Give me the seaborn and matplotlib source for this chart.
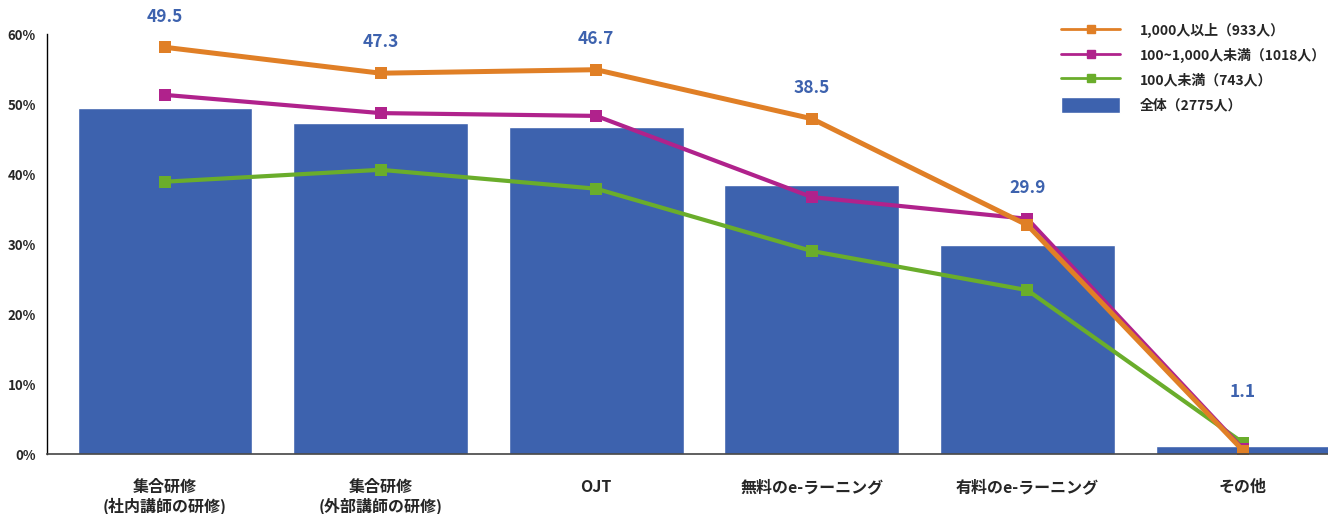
import numpy as np
import pandas as pd
import matplotlib
matplotlib.use("Agg")
import matplotlib.pyplot as plt
import seaborn as sns
from matplotlib.lines import Line2D
from matplotlib.patches import Patch

categories = ["集合研修\n(社内講師の研修)", "集合研修\n(外部講師の研修)", "OJT",
              "無料のe-ラーニング", "有料のe-ラーニング", "その他"]
total = [49.5, 47.3, 46.7, 38.5, 29.9, 1.1]
large = [58.1, 54.4, 54.9, 47.9, 32.7, 0.5]
medium = [51.3, 48.7, 48.3, 36.7, 33.6, 0.7]
small = [38.9, 40.6, 37.9, 29.0, 23.4, 1.6]

series_names = ["1,000人以上（933人）", "100~1,000人未満（1018人）", "100人未満（743人）"]
total_name = "全体（2775人）"

blue = "#3D62AE"
colors = {"large": "#E07F26", "medium": "#B0228C", "small": "#6AAD2B"}

sns.set_style("white")
plt.rcParams['font.family'] = ['Noto Sans CJK JP', 'DejaVu Sans']

bars = pd.DataFrame({"cat": categories, "value": total})
pos = np.arange(len(categories))

fig = plt.figure(figsize=(13.28, 5.14), dpi=100)
ax = fig.add_axes([47 / 1328, 60 / 514, 1 - 47 / 1328, 420 / 514])

sns.barplot(data=bars, x="cat", y="value", color=blue, saturation=1,
            width=0.81, ax=ax)

# draw order: green, magenta, then orange on top
lines = [("small", small, 3.0), ("medium", medium, 3.0), ("large", large, 3.6)]
for key, vals, lw in lines:
    df = pd.DataFrame({"pos": pos, "value": vals})
    sns.lineplot(data=df, x="pos", y="value", color=colors[key], linewidth=lw,
                 marker="s", markersize=8, markeredgewidth=0, ax=ax)

for i, v in enumerate(total):
    top = max(large[i], medium[i], small[i], v)
    ax.text(i, max(top + 4.4, 8.9), f"{v}", ha="center", va="center",
            color=blue, fontsize=12.5, fontweight="bold", clip_on=False)

ax.set_xlim(-0.547, 5.394)
ax.set_ylim(0, 60)
ax.set_yticks(range(0, 61, 10))
ax.set_yticklabels([f"{t}%" for t in range(0, 61, 10)], fontsize=9.5,
                   fontweight="bold")
ax.set_xticks(pos)
ax.set_xticklabels(categories, fontsize=11.5, fontweight="bold", linespacing=1.2)
ax.set_xlabel("")
ax.set_ylabel("")
ax.tick_params(axis="y", direction="in", length=11, width=1.2, color="#555555", pad=8)
ax.tick_params(axis="x", length=0, pad=18)
for s in ["top", "right"]:
    ax.spines[s].set_visible(False)
ax.spines["left"].set_color("black")
ax.spines["bottom"].set_color("#444444")
ax.spines["left"].set_linewidth(1.0)
ax.spines["bottom"].set_linewidth(1.2)

handles = [
    Line2D([], [], color=colors["large"], lw=2, marker="s", markersize=6),
    Line2D([], [], color=colors["medium"], lw=2, marker="s", markersize=6),
    Line2D([], [], color=colors["small"], lw=2, marker="s", markersize=6),
    Patch(facecolor=blue),
]
leg = ax.legend(handles, series_names + [total_name], loc="upper left",
                bbox_to_anchor=(0.787, 1.04),
                frameon=False, fontsize=10, handlelength=4.3, handleheight=1.4,
                handletextpad=1.4, labelspacing=0.62, borderaxespad=0)
for t in leg.get_texts():
    t.set_fontweight("bold")

fig.savefig("out.png", dpi=100)
